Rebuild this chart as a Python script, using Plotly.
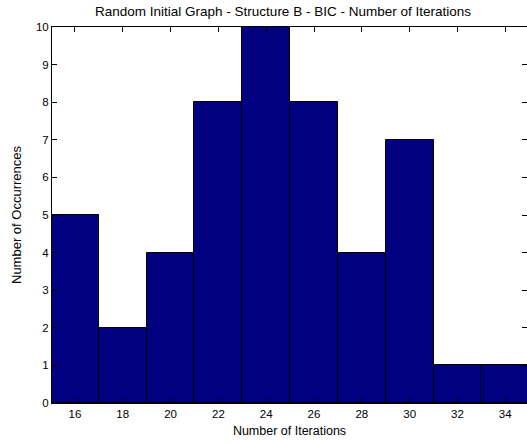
import plotly.graph_objects as go

# Histogram bins (centres) and counts
bin_centers = [16, 18, 20, 22, 24, 26, 28, 30, 32, 34]
counts = [5, 2, 4, 8, 10, 8, 4, 7, 1, 1]
x_ticks = [16, 18, 20, 22, 24, 26, 28, 30, 32, 34]
y_ticks = [0, 1, 2, 3, 4, 5, 6, 7, 8, 9, 10]

font_family = "Liberation Sans, Arial, sans-serif"

fig = go.Figure(
    go.Bar(
        x=bin_centers,
        y=counts,
        width=2.0,
        marker=dict(color="#000080", line=dict(color="#000000", width=1)),
    )
)

axis_common = dict(
    showline=True,
    linecolor="#000000",
    linewidth=1,
    mirror="ticks",
    ticks="inside",
    ticklen=5,
    tickcolor="#000000",
    showgrid=False,
    zeroline=False,
    tickfont=dict(family=font_family, size=11.5, color="#000000"),
)

fig.update_layout(
    width=527,
    height=444,
    margin=dict(l=52, r=0, t=27, b=41),
    paper_bgcolor="#ffffff",
    plot_bgcolor="#ffffff",
    bargap=0,
    showlegend=False,
    title=dict(
        text="Random Initial Graph - Structure B - BIC - Number of Iterations",
        font=dict(family=font_family, size=13.5, color="#000000"),
        x=0.537,
        xanchor="center",
        y=0.974,
        yanchor="middle",
    ),
    xaxis=dict(
        range=[15.04, 34.91],
        tickvals=x_ticks,
        title=dict(
            text="Number of Iterations",
            font=dict(family=font_family, size=12.5, color="#000000"),
            standoff=7,
        ),
        **axis_common,
    ),
    yaxis=dict(
        range=[0, 10],
        tickvals=y_ticks,
        title=dict(
            text="Number of Occurrences",
            font=dict(family=font_family, size=13, color="#000000"),
            standoff=11,
        ),
        **axis_common,
    ),
)

fig.write_html("out.html")
